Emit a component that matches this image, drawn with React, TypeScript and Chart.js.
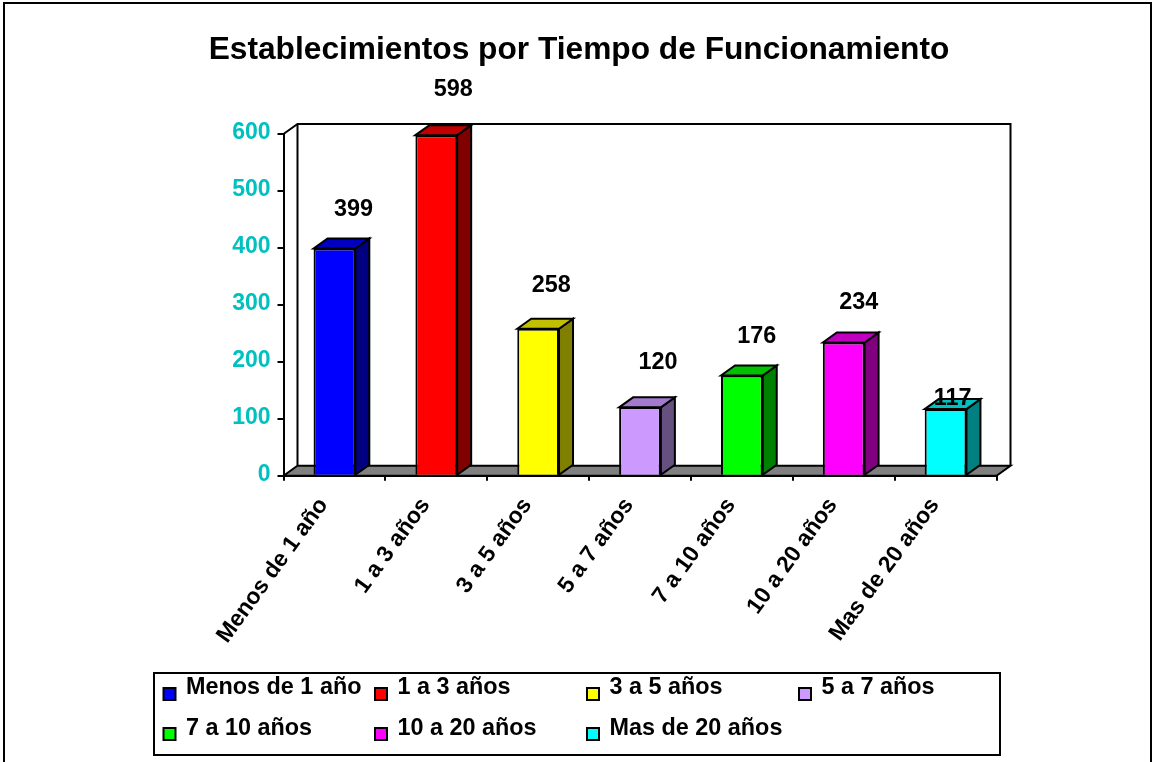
import React, { useEffect, useRef } from "react";
import { Chart, registerables } from "chart.js";

Chart.register(...registerables);

const titleText = "Establecimientos por Tiempo de Funcionamiento";
const categories = ["Menos de 1 año", "1 a 3 años", "3 a 5 años", "5 a 7 años", "7 a 10 años", "10 a 20 años", "Mas de 20 años"];
const values = [399, 598, 258, 120, 176, 234, 117];
const frontColors = ["#0000FF", "#FF0000", "#FFFF00", "#CC99FF", "#00FF00", "#FF00FF", "#00FFFF"];
const topColors = ["#0000C0", "#C00000", "#C0C000", "#A37ACC", "#00C000", "#C000C0", "#00C0C0"];
const sideColors = ["#000080", "#800000", "#808000", "#665080", "#008000", "#800080", "#008080"];
const labelDx = [19, 17, 13, 18, 15, 15, 7];
const labelDy = [-39, -46, -43, -45, -39, -40, -11];

const FONT = '"Liberation Sans", Arial, sans-serif';
const DX = 14;
const DY = -10;

const scene3d = {
  id: "scene3d",
  beforeDatasetsDraw(chart: any) {
    const { ctx, chartArea: a } = chart;
    ctx.save();
    ctx.strokeStyle = "#000";
    ctx.lineWidth = 2;
    ctx.lineJoin = "miter";
    // outer frame
    ctx.beginPath();
    ctx.moveTo(4, 762);
    ctx.lineTo(4, 3);
    ctx.lineTo(1151, 3);
    ctx.lineTo(1151, 762);
    ctx.stroke();
    // floor
    ctx.beginPath();
    ctx.moveTo(a.left, a.bottom);
    ctx.lineTo(a.left + DX, a.bottom + DY);
    ctx.lineTo(a.right + DX, a.bottom + DY);
    ctx.lineTo(a.right, a.bottom);
    ctx.closePath();
    ctx.fillStyle = "#808080";
    ctx.fill();
    ctx.stroke();
    // walls
    ctx.beginPath();
    ctx.moveTo(a.left, a.top);
    ctx.lineTo(a.left + DX, a.top + DY);
    ctx.lineTo(a.right + DX, a.top + DY);
    ctx.lineTo(a.right + DX, a.bottom + DY);
    ctx.moveTo(a.left + DX, a.top + DY);
    ctx.lineTo(a.left + DX, a.bottom + DY);
    ctx.stroke();
    // bar sides and tops
    ctx.lineWidth = 2;
    chart.getDatasetMeta(0).data.forEach((bar: any, i: number) => {
      const right = bar.x + bar.width / 2;
      const left = bar.x - bar.width / 2;
      ctx.fillStyle = sideColors[i];
      ctx.beginPath();
      ctx.moveTo(right, bar.y);
      ctx.lineTo(right + DX, bar.y + DY);
      ctx.lineTo(right + DX, bar.base + DY);
      ctx.lineTo(right, bar.base);
      ctx.closePath();
      ctx.fill();
      ctx.stroke();
      ctx.fillStyle = topColors[i];
      ctx.beginPath();
      ctx.moveTo(left, bar.y);
      ctx.lineTo(left + DX, bar.y + DY);
      ctx.lineTo(right + DX, bar.y + DY);
      ctx.lineTo(right, bar.y);
      ctx.closePath();
      ctx.fill();
      ctx.stroke();
    });
    ctx.restore();
  },
  afterDatasetsDraw(chart: any) {
    const { ctx } = chart;
    ctx.save();
    ctx.fillStyle = "#000";
    ctx.font = `bold 23.4px ${FONT}`;
    ctx.textAlign = "center";
    ctx.textBaseline = "middle";
    chart.getDatasetMeta(0).data.forEach((bar: any, i: number) => {
      ctx.fillText(String(values[i]), bar.x + labelDx[i], bar.y + labelDy[i]);
    });
    ctx.restore();
  },
  afterDraw(chart: any) {
    const { ctx } = chart;
    ctx.save();
    ctx.strokeStyle = "#000";
    ctx.lineWidth = 2;
    ctx.fillStyle = "#fff";
    ctx.fillRect(154, 673, 846, 82);
    ctx.strokeRect(154, 673, 846, 82);
    const cols = [163.5, 375, 587, 799];
    const rows = [688, 728];
    categories.forEach((c, i) => {
      const x = cols[i % 4];
      const r = Math.floor(i / 4);
      const y = rows[r];
      ctx.fillStyle = frontColors[i];
      ctx.lineWidth = 2;
      ctx.fillRect(x, y, 12, 12);
      ctx.strokeRect(x, y, 12, 12);
      ctx.fillStyle = "#000";
      ctx.font = `bold 23.4px ${FONT}`;
      ctx.textAlign = "left";
      ctx.textBaseline = "middle";
      ctx.fillText(c, x + 22.5, y + r);
    });
    ctx.restore();
  },
};

export default function App() {
  const ref = useRef<HTMLCanvasElement>(null);
  useEffect(() => {
    document.body.style.margin = "0";
    const chart = new Chart(ref.current as HTMLCanvasElement, {
      type: "bar",
      data: {
        labels: categories,
        datasets: [
          {
            data: values,
            backgroundColor: frontColors,
            borderColor: "#000",
            borderWidth: 2,
            barPercentage: 0.41,
            categoryPercentage: 1,
          },
        ],
      },
      plugins: [scene3d],
      options: {
        responsive: false,
        animation: false,
        layout: { padding: { left: 161.5, right: 155.5, top: 0, bottom: 0 } },
        plugins: {
          legend: { display: false },
          tooltip: { enabled: false },
          title: {
            display: true,
            text: titleText,
            color: "#000",
            font: { family: FONT, size: 31.7, weight: "bold" },
            padding: { top: 31, bottom: 65 },
          },
        },
        scales: {
          x: {
            border: { display: true, color: "#000", width: 2 },
            grid: { display: true, drawOnChartArea: false, drawTicks: true, tickLength: 5, color: "#000", lineWidth: 2 },
            ticks: {
              autoSkip: false,
              minRotation: 54,
              maxRotation: 54,
              color: "#000",
              padding: 12,
              labelOffset: -11,
              font: { family: FONT, size: 23, weight: "bold" },
            },
            afterFit(s: any) {
              s.height = 286.3;
              s.paddingLeft = 0;
              s.paddingRight = 0;
            },
          },
          y: {
            min: 0,
            max: 600,
            border: { display: true, color: "#000", width: 2 },
            grid: { display: true, drawOnChartArea: false, drawTicks: true, tickLength: 6, color: "#000", lineWidth: 2 },
            ticks: {
              stepSize: 100,
              color: "#00C0C0",
              padding: 7,
              labelOffset: -1,
              font: { family: FONT, size: 23, weight: "bold" },
            },
            afterFit(s: any) {
              s.width = 122;
              s.paddingTop = 0;
              s.paddingBottom = 0;
            },
          },
        },
      } as any,
    });
    return () => chart.destroy();
  }, []);
  return <canvas ref={ref} width={1152} height={762} style={{ display: "block" }} />;
}
